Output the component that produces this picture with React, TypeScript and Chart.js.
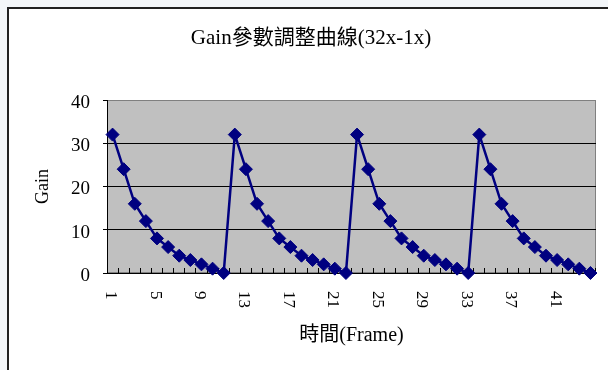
import React, { useEffect, useRef } from "react";
import { Chart, registerables } from "chart.js";

Chart.register(...registerables);

const chartTitle = "Gain參數調整曲線(32x-1x)";
const xAxisTitle = "時間(Frame)";
const yAxisTitle = "Gain";

const frames = [
  "1", "2", "3", "4", "5", "6", "7", "8", "9", "10", "11",
  "12", "13", "14", "15", "16", "17", "18", "19", "20", "21", "22",
  "23", "24", "25", "26", "27", "28", "29", "30", "31", "32", "33",
  "34", "35", "36", "37", "38", "39", "40", "41", "42", "43", "44",
];

const gainValues = [
  32, 24, 16, 12, 8, 6, 4, 3, 2, 1, 0,
  32, 24, 16, 12, 8, 6, 4, 3, 2, 1, 0,
  32, 24, 16, 12, 8, 6, 4, 3, 2, 1, 0,
  32, 24, 16, 12, 8, 6, 4, 3, 2, 1, 0,
];

const yMin = 0;
const yMax = 40;
const yStep = 10;
const xLabelEvery = 4;

const SERIF = "'Liberation Serif', 'Times New Roman', 'Noto Sans CJK TC', serif";

const plotBgPlugin = {
  id: "plotBg",
  beforeDraw(chart: any) {
    const { ctx, chartArea: a } = chart;
    ctx.save();
    ctx.fillStyle = "#c0c0c0";
    ctx.fillRect(a.left, a.top, a.right - a.left, a.bottom - a.top);
    ctx.strokeStyle = "#808080";
    ctx.lineWidth = 1;
    ctx.strokeRect(
      Math.round(a.left) + 0.5,
      Math.round(a.top) + 0.5,
      Math.round(a.right - a.left) - 1,
      Math.round(a.bottom - a.top) - 1
    );
    ctx.restore();
  },
};

const xLabelPlugin = {
  id: "xLabelsRotated",
  afterDraw(chart: any) {
    const xs = chart.scales.x;
    const ctx = chart.ctx;
    ctx.save();
    ctx.font = `17px ${SERIF}`;
    ctx.fillStyle = "#000000";
    ctx.textAlign = "left";
    ctx.textBaseline = "middle";
    frames.forEach((lab, i) => {
      if (i % xLabelEvery !== 0) return;
      const px = xs.getPixelForValue(i);
      ctx.save();
      ctx.translate(px - 2, xs.top + 18);
      ctx.rotate(Math.PI / 2);
      ctx.fillText(lab, 0, 0);
      ctx.restore();
    });
    ctx.restore();
  },
};

export default function App() {
  const canvasRef = useRef<HTMLCanvasElement | null>(null);

  useEffect(() => {
    const canvas = canvasRef.current;
    if (!canvas) return;
    const chart = new Chart(canvas, {
      type: "line",
      data: {
        labels: frames,
        datasets: [
          {
            data: gainValues,
            borderColor: "#000080",
            backgroundColor: "#000080",
            borderWidth: 2.5,
            pointStyle: "rectRot",
            pointRadius: 6.5,
            pointBackgroundColor: "#000080",
            pointBorderColor: "#000080",
            pointBorderWidth: 1,
            tension: 0,
            clip: false as any,
          },
        ],
      },
      options: {
        animation: false,
        responsive: false,
        devicePixelRatio: 1,
        layout: { padding: { left: 26, right: 12, top: 10, bottom: 10 } },
        plugins: {
          legend: { display: false },
          tooltip: { enabled: false },
          title: {
            display: true,
            text: chartTitle,
            color: "#000000",
            font: { size: 21, family: SERIF, weight: "normal" },
            padding: { top: 15.4, bottom: 49.4 },
          },
        },
        scales: {
          x: {
            type: "category",
            offset: true,
            afterFit: (scale: any) => {
              scale.height = 87;
            },
            grid: {
              display: true,
              offset: true,
              drawOnChartArea: false,
              drawTicks: true,
              tickLength: -5,
              color: "#000000",
              lineWidth: 1,
            },
            border: { display: true, color: "#000000", width: 1 },
            ticks: { display: false, autoSkip: false },
            title: {
              display: true,
              text: xAxisTitle,
              color: "#000000",
              font: { size: 20, family: SERIF },
              padding: { top: 0, bottom: 12 },
            },
          },
          y: {
            min: yMin,
            max: yMax,
            afterFit: (scale: any) => {
              scale.width = 81;
            },
            grid: {
              color: (c: any) => (c.tick && c.tick.value === yMax ? "#808080" : "#000000"),
              tickColor: "#000000",
              lineWidth: 1,
              tickLength: 4,
              drawTicks: true,
            },
            border: { display: true, color: "#000000", width: 1 },
            ticks: {
              stepSize: yStep,
              color: "#000000",
              padding: 13,
              labelOffset: 3,
              font: { size: 19, family: SERIF },
            },
            title: {
              display: true,
              text: yAxisTitle,
              color: "#000000",
              font: { size: 18, family: SERIF },
              padding: { top: 6, bottom: 0 },
            },
          },
        },
      },
      plugins: [plotBgPlugin, xLabelPlugin],
    });
    return () => chart.destroy();
  }, []);

  return (
    <div style={{ position: "fixed", left: 0, top: 0, width: 608, height: 370, background: "#f3f6f9", overflow: "hidden" }}>
      <div
        style={{
          position: "absolute",
          left: 7,
          top: 7,
          width: 700,
          height: 500,
          background: "#ffffff",
          borderLeft: "2px solid #222222",
          borderTop: "2px solid #222222",
        }}
      />
      <canvas
        ref={canvasRef}
        width={608}
        height={370}
        style={{ position: "absolute", left: 0, top: 0, display: "block" }}
      />
    </div>
  );
}
